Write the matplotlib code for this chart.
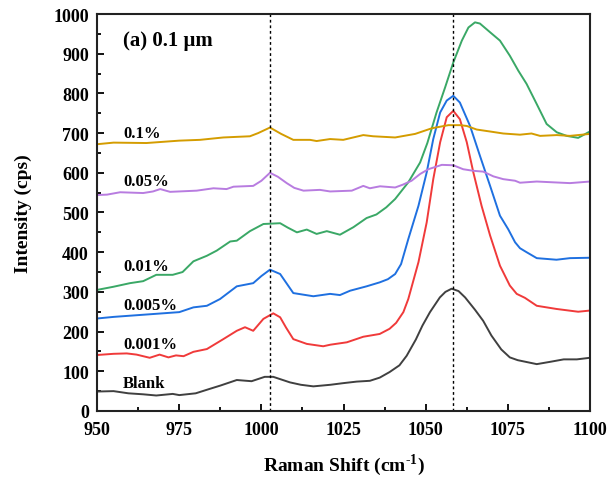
import numpy as np
import matplotlib
matplotlib.use('Agg')
import matplotlib.pyplot as plt

plt.rcParams['font.family'] = 'Liberation Serif'
plt.rcParams['font.weight'] = 'bold'
plt.rcParams['mathtext.fontset'] = 'custom'
plt.rcParams['mathtext.rm'] = 'Liberation Serif:bold'
plt.rcParams['mathtext.bf'] = 'Liberation Serif:bold'

# data (Raman shift in cm-1, intensity in cps)
x_blank = [950, 955, 959.5, 964, 968, 973, 975, 980, 984, 987.5, 992.5, 997, 1001, 1003.6, 1008.7,
           1012, 1015.8, 1021, 1024.8, 1029, 1033, 1036, 1039, 1042, 1044.2, 1047, 1049, 1051.3,
           1054.3, 1056, 1057.9, 1060, 1062, 1065, 1067.5, 1070, 1073, 1075.6, 1078, 1083.8, 1088,
           1092, 1096, 1100]
y_blank = [49, 50, 44.5, 42, 39, 43, 40, 44.5, 55, 64, 78, 75, 86, 86, 72,
           66, 62, 66, 70, 74, 76, 84, 98, 115, 139, 180, 215, 249,
           286, 300, 308, 302, 286, 255, 227, 190, 155, 135, 128, 118, 124,
           130, 130, 134]

x_001 = [950, 955, 959, 962, 966, 969, 971.7, 974, 976.3, 979.3, 983.4, 988.4, 992.5, 995, 997.5,
         1000.6, 1003.6, 1005.7, 1007.5, 1009.7, 1013.8, 1018.8, 1021, 1026, 1031, 1036, 1039,
         1041, 1043.2, 1044.7, 1047.8, 1050.3, 1052.3, 1054.4, 1056.4, 1058.4, 1060.4, 1062.5,
         1064.5, 1067, 1069.6, 1072.6, 1075.6, 1077.7, 1080.2, 1083.8, 1089.8, 1096.4, 1100]
y_001 = [141, 144, 145, 142, 134, 142, 135, 140, 138, 149, 156, 181, 202, 211, 202,
         232, 246, 236, 210, 181, 169, 163, 167, 173, 187, 194, 207,
         222, 249, 282, 375, 475, 584, 677, 740, 756, 735, 677,
         601, 517, 442, 366, 316, 295, 285, 265, 257, 250, 253]

x_005 = [950, 955, 960, 965, 970, 975, 979.3, 983.4, 987.4, 992.5, 997.5, 1000, 1002.6, 1005.7,
         1009.7, 1015.8, 1020.9, 1023.9, 1027, 1032, 1036, 1038.5, 1040.7, 1042.5, 1044.7, 1047.8,
         1050.3, 1052.3, 1054.4, 1056.4, 1058.4, 1060.4, 1063.5, 1066.5, 1069.6, 1072.6, 1075.1,
         1077.2, 1078.7, 1080.7, 1083.8, 1089.8, 1093.9, 1100]
y_005 = [233, 237, 240, 243, 246, 249, 261, 265, 282, 314, 322, 340, 356, 345,
         297, 289, 295, 292, 303, 314, 324, 332, 345, 370, 433, 517,
         601, 685, 752, 782, 794, 777, 718, 643, 567, 492, 458,
         425, 410, 400, 385, 381, 385, 386]

x_01 = [950, 955, 960, 964, 968, 973, 976, 979.3, 983.4, 986.4, 990.5, 992.5, 996.5, 1000.6,
        1005.7, 1008, 1010.8, 1013.8, 1016.8, 1019.9, 1023.9, 1028, 1032, 1035, 1038, 1040.7,
        1044.7, 1048.3, 1050.5, 1053.3, 1055.9, 1058.4, 1061, 1063, 1065, 1066.5, 1069.6, 1072.6,
        1075.6, 1078.2, 1080.7, 1083.8, 1086.8, 1089.9, 1092.9, 1096.4, 1099.5, 1100]
y_01 = [305, 313, 322, 327, 343, 343, 350, 377, 391, 404, 427, 429, 453, 471,
        473, 462, 450, 457, 446, 453, 444, 463, 486, 495, 513, 534,
        576, 626, 675, 752, 815, 878, 933, 966, 979, 976, 954, 933,
        895, 857, 824, 773, 723, 702, 693, 688, 702, 704]

x_05 = [950, 953, 957, 964, 967, 969.2, 972.2, 980.3, 985.4, 989.4, 991.5, 997.5, 1000, 1002.6,
        1005, 1007.7, 1010, 1012.8, 1017.8, 1020.9, 1027.5, 1031, 1033, 1036.1, 1040.7, 1043,
        1045.7, 1048.3, 1050.8, 1054.9, 1058.4, 1061.4, 1064.5, 1067.5, 1070.6, 1073.6, 1077.2,
        1078.7, 1083.8, 1088.8, 1093.9, 1100]
y_05 = [544, 545, 551, 549, 553, 559, 552, 555, 561, 559, 565, 567, 580, 600,
        590, 574, 562, 555, 557, 553, 555, 567, 561, 566, 563, 570,
        580, 597, 609, 620, 619, 609, 605, 603, 591, 584, 580,
        575, 578, 576, 574, 578]

x_1 = [950, 955, 965, 975, 981.3, 988.4, 996.5, 999, 1002.6, 1006, 1009.7, 1014.8, 1016.8, 1020.9,
       1024.9, 1031, 1034, 1040.7, 1046.8, 1051.8, 1056.9, 1060.4, 1062.5, 1065.5, 1069.6, 1073.6,
       1078.7, 1082.2, 1084.8, 1089.9, 1093.9, 1100]
y_1 = [672, 676, 675, 681, 683, 689, 692, 700, 714, 698, 683, 683, 680, 685,
       683, 695, 692, 689, 698, 712, 720, 720, 718, 709, 704, 699,
       696, 699, 693, 695, 693, 698]

series = [
    (x_blank, y_blank, '#404040', 'Blank', 70),
    (x_001, y_001, '#f03a3a', '0.001%', 168),
    (x_005, y_005, '#1f70e0', '0.005%', 268),
    (x_01, y_01, '#3aa866', '0.01%', 365),
    (x_05, y_05, '#b87ce0', '0.05%', 580),
    (x_1, y_1, '#d49c00', '0.1%', 700),
]
peak_lines = [1002.6, 1058.3]

fig = plt.figure(figsize=(6.11, 4.81), dpi=100)
ax = fig.add_axes([0.159, 0.1435, 0.8066, 0.8253])

for x, y, c, lab, ly in series:
    ax.plot(x, y, color=c, lw=1.4)
    ax.text(957.9, ly, lab, fontsize=12, fontweight='bold', va='center', ha='left')

for xv in peak_lines:
    ax.axvline(xv, color='black', ls=(0, (2, 2)), lw=1)

ax.text(957.9, 935, '(a) 0.1 μm', fontsize=15, fontweight='bold', va='center')

ax.set_xlim(950, 1100)
ax.set_ylim(0, 1000)
ax.set_xticks(np.arange(950, 1101, 25))
ax.set_xticks(np.arange(950, 1101, 12.5), minor=True)
ax.set_yticks(np.arange(0, 1001, 100))
ax.set_yticks(np.arange(0, 1001, 50), minor=True)
ax.tick_params(which='both', direction='in', width=1.3, labelsize=13)
ax.tick_params(which='major', length=5)
ax.tick_params(which='minor', length=3)
ax.tick_params(axis='x', pad=7)
ax.tick_params(axis='y', pad=6)
for lbl in ax.get_xticklabels() + ax.get_yticklabels():
    lbl.set_fontweight('bold')
for s in ax.spines.values():
    s.set_linewidth(1.5)
    s.set_color('#222222')

ax.set_xlabel('Raman Shift (cm$^{\u20101}$)', fontsize=14, fontweight='bold', labelpad=10)
ax.set_ylabel('Intensity (cps)', fontsize=14, fontweight='bold', labelpad=15)

fig.savefig('out.png', dpi=100)
